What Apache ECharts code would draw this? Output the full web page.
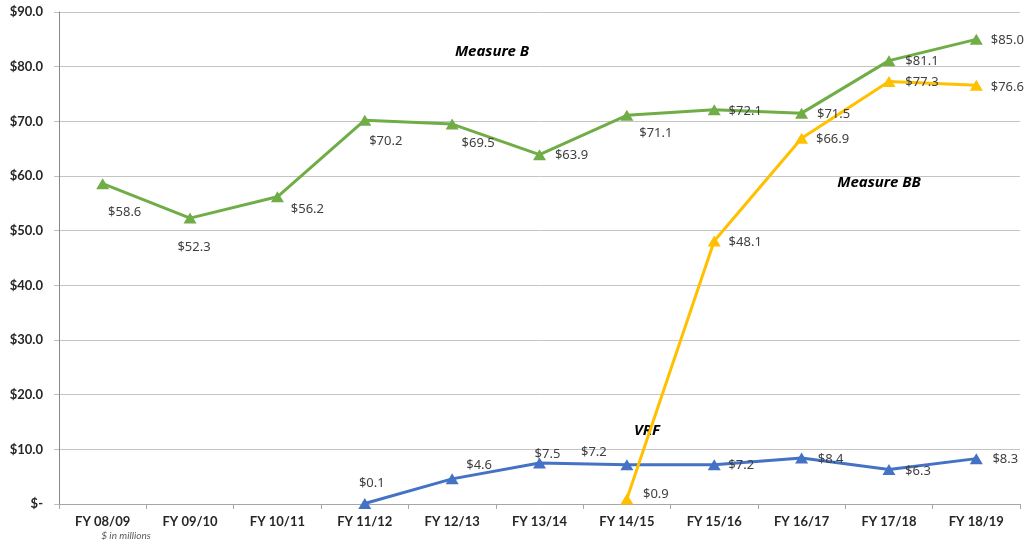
<!DOCTYPE html>
<html lang="en">
<head>
    <meta charset="UTF-8">
    <title>Measure B / Measure BB / VRF</title>
</head>
<style>
    html, body {
        margin: 0;
        padding: 0;
        background: #fff;
    }
    #chart {
        width: 1026px;
        height: 544px;
    }
</style>
<body>
<div id="chart"></div>
</body>
<script src="https://cdn.jsdelivr.net/npm/echarts@6/dist/echarts.min.js"></script>
<script>
    var years = ['FY 08/09', 'FY 09/10', 'FY 10/11', 'FY 11/12', 'FY 12/13', 'FY 13/14',
        'FY 14/15', 'FY 15/16', 'FY 16/17', 'FY 17/18', 'FY 18/19'];
    var measureB = [58.6, 52.3, 56.2, 70.2, 69.5, 63.9, 71.1, 72.1, 71.5, 81.1, 85.0];
    var measureBB = [null, null, null, null, null, null, 0.9, 48.1, 66.9, 77.3, 76.6];
    var vrf = [null, null, null, 0.1, 4.6, 7.5, 7.2, 7.2, 8.4, 6.3, 8.3];

    // label offsets from the marker centre (px), one per point
    var offB = [[22, 29], [4, 29], [30, 13], [21, 21], [26, 19], [32, 1], [29, 18], [31, 1], [32, 1], [33, 1], [31, 1]];
    var offBB = [null, null, null, null, null, null, [29, -5], [31, 1], [31, 1], [33, 1], [31, 2]];
    var offVrf = [null, null, null, [7, -20], [27, -14], [8, -9], [-33, -12], [27, 1], [29, 1], [29, 2], [29, 1]];

    var labelFont = {
        show: true,
        position: 'inside',
        color: '#404040',
        fontFamily: 'Noto Sans',
        fontSize: 13,
        formatter: function (p) {
            return '$' + p.value.toFixed(1);
        }
    };

    function buildData(values, offsets) {
        return values.map(function (v, i) {
            if (v === null) return null;
            return {
                value: v,
                label: {offset: offsets[i]}
            };
        });
    }

    function makeSeries(name, values, offsets, color) {
        return {
            name: name,
            type: 'line',
            data: buildData(values, offsets),
            symbol: 'triangle',
            symbolSize: [13, 11],
            lineStyle: {color: color, width: 3},
            itemStyle: {color: color},
            label: labelFont,
            animation: false
        };
    }

    var chart = echarts.init(document.getElementById('chart'));
    var option = {
        animation: false,
        grid: {
            left: 59,
            right: 6,
            top: 12,
            bottom: 40
        },
        xAxis: {
            type: 'category',
            data: years,
            boundaryGap: true,
            axisLine: {lineStyle: {color: '#a6a6a6', width: 1}},
            axisTick: {show: true, length: 5, lineStyle: {color: '#a6a6a6'}},
            axisLabel: {
                color: '#262626',
                fontFamily: 'Lato',
                fontWeight: 'bold',
                fontSize: 13,
                margin: 11
            }
        },
        yAxis: {
            type: 'value',
            min: 0,
            max: 90,
            interval: 10,
            axisLine: {show: true, lineStyle: {color: '#888888', width: 1}},
            axisTick: {show: true, length: 5, lineStyle: {color: '#bfbfbf'}},
            splitLine: {lineStyle: {color: '#c4c4c4', width: 1}},
            axisLabel: {
                color: '#262626',
                fontFamily: 'Lato',
                fontWeight: 'bold',
                fontSize: 13,
                margin: 16,
                formatter: function (v) {
                    return v === 0 ? '$-' : '$' + v.toFixed(1);
                }
            }
        },
        series: [
            makeSeries('VRF', vrf, offVrf, '#4472C4'),
            makeSeries('Measure B', measureB, offB, '#70AD47'),
            makeSeries('Measure BB', measureBB, offBB, '#FFC000')
        ],
        graphic: [
            {
                type: 'text', x: 492, y: 52,
                style: {text: 'Measure B', font: 'italic bold 15px "Noto Sans"', fill: '#000', align: 'center', verticalAlign: 'middle'}
            },
            {
                type: 'text', x: 879, y: 183,
                style: {text: 'Measure BB', font: 'italic bold 15px "Noto Sans"', fill: '#000', align: 'center', verticalAlign: 'middle'}
            },
            {
                type: 'text', x: 647, y: 431,
                style: {text: 'VRF', font: 'italic bold 15px "Noto Sans"', fill: '#000', align: 'center', verticalAlign: 'middle'}
            },
            {
                type: 'text', x: 126, y: 536,
                style: {text: '$ in millions', font: 'italic 10px Lato', fill: '#595959', align: 'center', verticalAlign: 'middle'}
            }
        ]
    };
    chart.setOption(option);
</script>
</html>
